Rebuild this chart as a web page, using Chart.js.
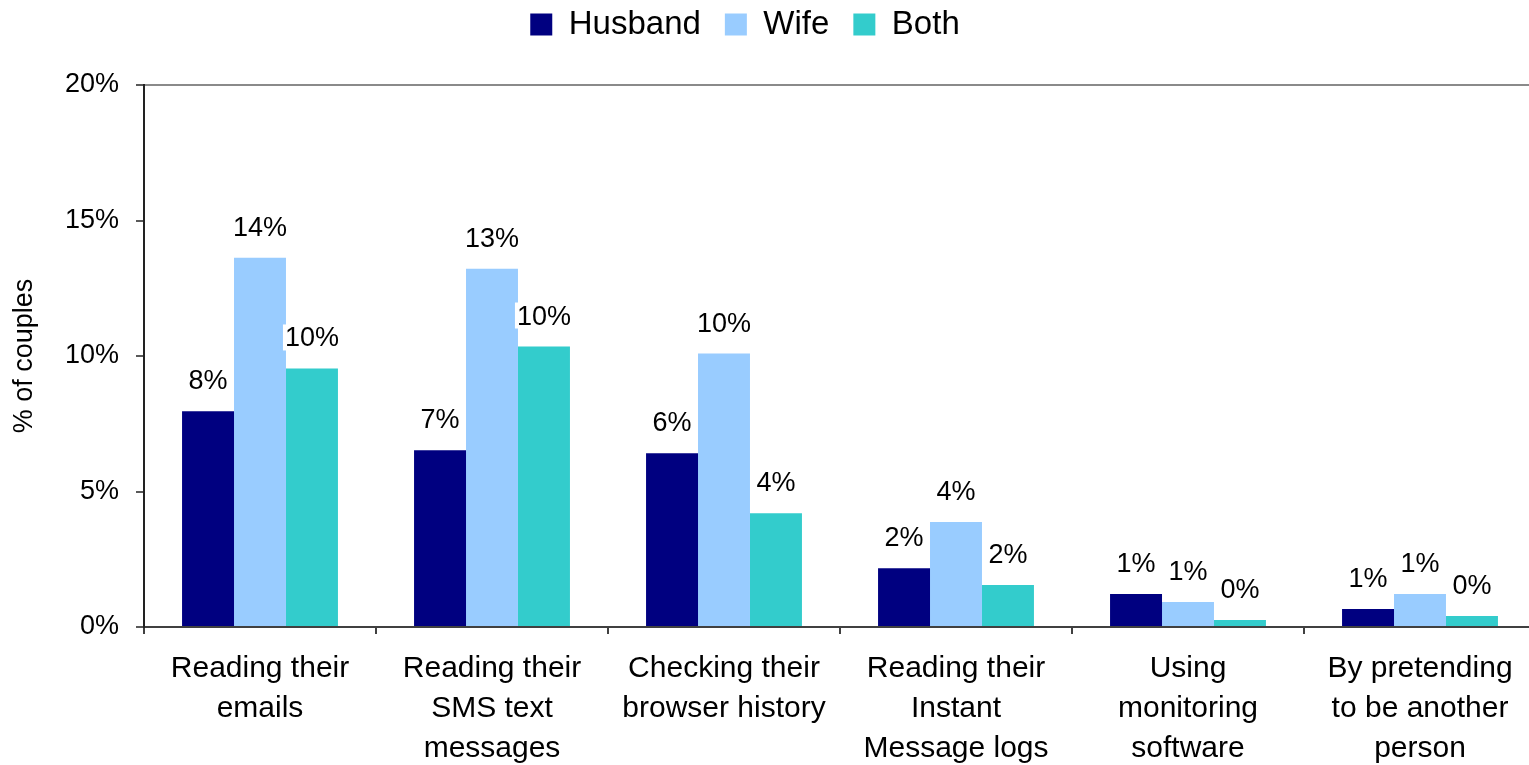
<!DOCTYPE html>
<html>
<head>
<meta charset="utf-8">
<script src="https://cdn.jsdelivr.net/npm/chart.js@4.4.1/dist/chart.umd.min.js"></script>
<style>
  html, body { margin: 0; padding: 0; overflow: hidden; background: #fff; }
  #wrap { position: relative; width: 1540px; height: 765px; }
</style>
</head>
<body>
<div id="wrap"><canvas id="chart"></canvas></div>
<script>
// chart data
const categories = [
    ['Reading their', 'emails'],
    ['Reading their', 'SMS text', 'messages'],
    ['Checking their', 'browser history'],
    ['Reading their', 'Instant', 'Message logs'],
    ['Using', 'monitoring', 'software'],
    ['By pretending', 'to be another', 'person']
];
const husband = [7.96, 6.52, 6.41, 2.17, 1.22, 0.66];
const wife = [13.63, 13.22, 10.09, 3.87, 0.92, 1.22];
const both = [9.54, 10.35, 4.20, 1.55, 0.26, 0.41];
const yTicks = [0, 5, 10, 15, 20];

const FONT = 'Liberation Sans, Arial, sans-serif';

// draws the % label above each bar, Excel style (white box behind)
const barLabels = {
    id: 'barLabels',
    afterDatasetsDraw(chart) {
        const ctx = chart.ctx;
        ctx.save();
        ctx.font = '27px ' + FONT;
        ctx.textAlign = 'center';
        ctx.textBaseline = 'alphabetic';
        chart.data.datasets.forEach((ds, i) => {
            const meta = chart.getDatasetMeta(i);
            meta.data.forEach((bar, j) => {
                const txt = Math.round(ds.data[j]) + '%';
                const w = ctx.measureText(txt).width;
                const y = bar.y - 22;
                ctx.fillStyle = '#fff';
                ctx.fillRect(bar.x - w / 2 - 2, y - 22, w + 4, 26);
                ctx.fillStyle = '#000';
                ctx.fillText(txt, bar.x, y);
            });
        });
        ctx.restore();
    }
};

// nudge the legend so it sits where the original has it
const legendShift = {
    id: 'legendShift',
    afterLayout(chart) {
        if (chart.legend) {
            chart.legend.left -= 23;
            chart.legend.right -= 23;
            chart.legend.top -= 34;
            chart.legend.bottom -= 34;
        }
    }
};

new Chart(document.getElementById('chart'), {
    type: 'bar',
    data: {
        labels: categories,
        datasets: [
            { label: 'Husband', data: husband, backgroundColor: '#000080' },
            { label: 'Wife', data: wife, backgroundColor: '#99CCFF' },
            { label: 'Both', data: both, backgroundColor: '#33CCCC' }
        ]
    },
    options: {
        responsive: true,
        maintainAspectRatio: false,
        animation: false,
        layout: { padding: { top: 18, right: 4, left: 0, bottom: 0 } },
        datasets: {
            bar: { categoryPercentage: 0.672, barPercentage: 1.0 }
        },
        plugins: {
            tooltip: { enabled: false },
            legend: {
                position: 'top',
                labels: {
                    color: '#000',
                    font: { family: FONT, size: 33 },
                    boxWidth: 22,
                    boxHeight: 22,
                    padding: 24
                }
            }
        },
        scales: {
            x: {
                afterFit: (scale) => { scale.height = 138; },
                border: { color: '#404040', width: 2 },
                grid: {
                    drawOnChartArea: false,
                    drawTicks: true,
                    tickLength: 7,
                    color: '#404040',
                    lineWidth: 2
                },
                ticks: {
                    color: '#000',
                    padding: 15,
                    maxRotation: 0,
                    autoSkip: false,
                    font: { family: FONT, size: 30, lineHeight: 40 / 30 }
                }
            },
            y: {
                min: 0,
                max: 20,
                afterFit: (scale) => { scale.width = 144; },
                afterBuildTicks: (scale) => { scale.ticks = yTicks.map(v => ({ value: v })); },
                border: { color: '#222', width: 2 },
                grid: {
                    drawOnChartArea: true,
                    color: (c) => (c.tick && c.tick.value === 20 ? '#8a8a8a' : 'rgba(0,0,0,0)'),
                    lineWidth: 2,
                    tickColor: '#222',
                    tickLength: 8,
                    tickWidth: 1.5
                },
                ticks: {
                    color: '#000',
                    padding: 17,
                    font: { family: FONT, size: 27 },
                    callback: (v) => v + '%'
                },
                title: {
                    display: true,
                    text: '% of couples',
                    color: '#000',
                    font: { family: FONT, size: 27 },
                    padding: { top: 8, bottom: 0 }
                }
            }
        }
    },
    plugins: [barLabels, legendShift]
});
</script>
</body>
</html>
